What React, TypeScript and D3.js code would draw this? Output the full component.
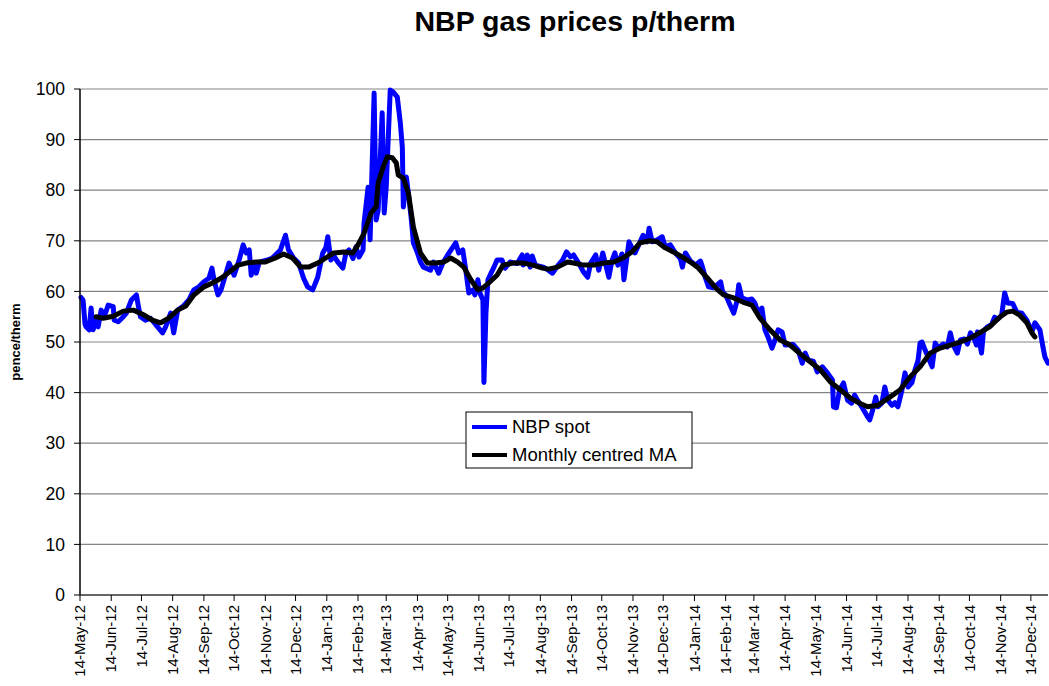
import * as d3 from 'd3';
import * as React from 'react';

const width = 1049;
const height = 686;
const margin = { top: 89, right: 1, bottom: 91, left: 80 };

const startDate = new Date(2012, 4, 14);
const totalDays = 961;

// days since 14-May-12
const spotDays = [
  1, 3, 5, 6, 9, 11, 13, 16, 18, 21, 24, 28, 33, 34, 38, 43, 46, 51, 56, 58, 60, 65, 70, 77, 82, 85, 90, 93, 97,
  102, 108, 113, 118, 123, 128, 131, 133, 137, 140, 148, 153, 158, 162, 165, 168, 170, 172, 175, 178, 186, 191,
  194, 199, 204, 207, 212, 217, 222, 226, 231, 236, 241, 244, 246, 249, 252, 256, 261, 264, 267, 271, 274, 277,
  281, 282, 286, 288, 292, 294, 296, 300, 302, 304, 308, 311, 315, 318, 320, 321, 324, 326, 329, 331, 335, 338,
  341, 348, 351, 356, 360, 365, 373, 376, 380, 383, 386, 390, 392, 395, 397, 400, 401, 403, 405, 408, 411, 414,
  419, 422, 427, 434, 439, 440, 444, 447, 449, 452, 460, 465, 469, 474, 479, 483, 487, 490, 495, 500, 504, 507,
  512, 515, 519, 525, 528, 531, 534, 538, 540, 543, 545, 548, 551, 559, 563, 565, 568, 573, 578, 581, 586, 591,
  596, 598, 601, 606, 611, 616, 618, 621, 624, 629, 636, 638, 641, 646, 649, 652, 654, 657, 663, 667, 670, 673,
  677, 680, 683, 687, 690, 693, 697, 700, 708, 713, 717, 720, 723, 728, 732, 737, 742, 747, 748, 751, 754, 758,
  762, 766, 769, 772, 776, 782, 784, 787, 790, 792, 796, 799, 802, 806, 809, 812, 816, 819, 822, 826, 829, 832,
  834, 836, 839, 842, 846, 849, 852, 857, 861, 864, 867, 871, 874, 878, 881, 884, 887, 890, 891, 895, 897, 901,
  905, 908, 911, 915, 918, 921, 926, 930, 935, 940, 945, 948, 953, 956, 958, 961,
];
const spotValues = [
  58.8, 58.3, 53.5, 53, 52.4, 56.7, 52.4, 54.3, 53, 56.3, 55, 57.3, 57, 54.3, 54, 55, 55.7, 58.3, 59.3, 57, 55,
  54.3, 54.7, 53, 51.8, 53, 55.7, 51.8, 56.3, 57, 58.3, 60.3, 60.9, 61.9, 62.6, 64.6, 62.3, 59.3, 60.3, 65.6,
  63.2, 66.2, 69.2, 67.6, 68.2, 63.2, 65.6, 63.6, 65.8, 66.2, 66.6, 67.2, 68.2, 71.1, 68.2, 66.6, 65.6, 62.6,
  60.9, 60.3, 62.8, 67.6, 68.6, 70.8, 66.2, 67, 65.8, 64.6, 67.6, 68.2, 66.5, 68.8, 66.8, 68.2, 73.5, 80.6, 70.2,
  99.2, 74.1, 76.1, 95.3, 75.5, 80.6, 99.8, 99.4, 98.4, 93.3, 88.5, 76.7, 82.6, 79.4, 74.1, 69.6, 67.6, 65.8,
  64.8, 64.2, 65.8, 63.6, 65.5, 67.2, 69.6, 67.6, 68.2, 64.2, 59.7, 60.3, 59.3, 62.3, 59.7, 58.3, 42, 55.7, 62.3,
  63.6, 64.8, 66.2, 66.2, 64.6, 65.8, 65.5, 67.2, 65.2, 67.2, 64.8, 67, 65.2, 64.8, 64.2, 63.6, 65, 66.2, 67.8,
  66.8, 67.2, 65.6, 63.8, 62.8, 65.6, 67.2, 64.2, 67.6, 62.8, 66, 67.6, 65.2, 67.4, 62.3, 66.8, 69.8, 68.6, 67.6,
  71.1, 69.8, 72.5, 69.8, 70.2, 70.8, 68.8, 69.2, 67.6, 66.5, 64.8, 67.6, 66, 65.2, 66, 64.8, 62.6, 60.9, 60.7,
  61.9, 59.9, 59.3, 57, 55.7, 57.9, 61.3, 58.7, 58.3, 58.5, 57.7, 55.9, 56.7, 52.4, 51, 48.8, 50.4, 52.4, 52,
  49.4, 49.5, 48.4, 45.8, 47.8, 46.4, 46.2, 44.1, 45.1, 43.9, 42.5, 37.2, 37, 40.5, 41.9, 38.5, 37.9, 39.5, 38.5,
  37.2, 35.2, 34.6, 36.6, 39.1, 37.2, 37.9, 41.1, 38.5, 37.5, 38, 37.2, 40.5, 43.9, 41.1, 42, 44.5, 46.4, 49.8,
  50, 48.4, 47, 45.1, 49.8, 48.8, 49.6, 49, 51.8, 49.4, 47.8, 50.4, 50.6, 49.6, 51.8, 51, 49.4, 52, 47.8, 52.2,
  53, 53.4, 54.9, 54.5, 55.3, 59.7, 57.7, 57.6, 55.9, 55.7, 54.3, 52, 53.8, 52.4, 49, 47, 45.8,
];

const maDays = [
  16, 23, 33, 43, 53, 62, 72, 80, 88, 97, 105, 113, 123, 132, 140, 148, 157, 165, 175, 184, 194, 202, 211, 219,
  227, 236, 244, 252, 262, 271, 276, 282, 289, 294, 296, 301, 305, 310, 314, 316, 321, 326, 331, 338, 345, 353,
  361, 368, 375, 381, 388, 395, 400, 406, 414, 420, 430, 440, 450, 459, 465, 474, 484, 490, 500, 510, 520, 530,
  539, 548, 556, 566, 573, 581, 589, 598, 606, 613, 623, 633, 639, 649, 658, 667, 675, 685, 695, 705, 713, 723,
  735, 745, 755, 765, 774, 782, 792, 804, 814, 824, 834, 844, 854, 864, 874, 884, 893, 903, 913, 920, 926, 933,
  940, 945, 948,
];
const maValues = [
  55, 54.7, 55.1, 56.1, 56.3, 55.5, 54.3, 53.8, 54.7, 56.3, 57.1, 59.3, 60.9, 61.7, 62.6, 63.8, 65.2, 65.6, 65.8,
  65.8, 66.6, 67.4, 66.6, 64.8, 64.8, 65.6, 66.6, 67.6, 67.8, 67.6, 69.2, 71.5, 75.5, 76.7, 81.4, 84.6, 86.6,
  86.4, 85.4, 83, 82.4, 79.4, 72.7, 67.6, 65.6, 65.6, 65.8, 66.6, 65.8, 64.8, 62.3, 60.3, 60.7, 61.7, 63.2,
  65.2, 65.6, 65.6, 65.2, 64.6, 64.4, 64.8, 65.8, 65.6, 65.2, 65.2, 65.6, 65.8, 66.6, 67.8, 69.6, 70, 69.8, 68.6,
  67.8, 66.8, 65.8, 64.8, 62.6, 60.3, 59.3, 58.7, 57.9, 57.3, 54.7, 52.4, 50.4, 49.4, 48, 46.4, 44.5, 42.1, 40.5,
  38.9, 37.9, 37.2, 37.5, 39.1, 40.5, 43.1, 45.1, 47.8, 48.8, 49.4, 50, 50.8, 51.8, 53, 54.9, 55.9, 56.1, 55.3,
  53.8, 51.8, 51,
];

const yTicks = [0, 10, 20, 30, 40, 50, 60, 70, 80, 90, 100];
const monthNames = ['Jan', 'Feb', 'Mar', 'Apr', 'May', 'Jun', 'Jul', 'Aug', 'Sep', 'Oct', 'Nov', 'Dec'];

const font = 'Arial, "Liberation Sans", sans-serif';

export default function App() {
  const x = d3
    .scaleTime()
    .domain([startDate, d3.timeDay.offset(startDate, totalDays)])
    .range([margin.left, width - margin.right]);
  const y = d3
    .scaleLinear()
    .domain([0, 100])
    .range([height - margin.bottom, margin.top]);

  const toDate = (d: number) => d3.timeDay.offset(startDate, d);

  const spot = spotDays.map((d, i) => ({ date: toDate(d), v: spotValues[i] }));
  const ma = maDays.map((d, i) => ({ date: toDate(d), v: maValues[i] }));

  const line = d3
    .line<{ date: Date; v: number }>()
    .x(d => x(d.date))
    .y(d => y(d.v));

  const xTicks = d3.range(0, 32).map(k => new Date(2012, 4 + k, 14));
  const fmt = (d: Date) =>
    `14-${monthNames[d.getMonth()]}-${String(d.getFullYear()).slice(2)}`;

  const x0 = margin.left;
  const x1 = width - margin.right;
  const y0 = height - margin.bottom;

  return (
    <svg
      width={width}
      height={height}
      style={{ position: 'absolute', left: 0, top: 0, background: '#fff' }}
      fontFamily={font}
    >
      <text x={575} y={31} textAnchor="middle" fontSize={28.5} fontWeight="bold">
        NBP gas prices p/therm
      </text>

      {/* gridlines */}
      <g stroke="#858585" strokeWidth={1.2}>
        {yTicks
          .filter(t => t > 0)
          .map(t => (
            <line key={t} x1={x0} x2={x1} y1={y(t)} y2={y(t)} />
          ))}
      </g>

      <path
        d={line(spot) || ''}
        fill="none"
        stroke="#0000ff"
        strokeWidth={5}
        strokeLinejoin="round"
        strokeLinecap="round"
      />
      <path
        d={line(ma) || ''}
        fill="none"
        stroke="#000"
        strokeWidth={5}
        strokeLinejoin="round"
        strokeLinecap="round"
      />

      {/* y axis */}
      <line x1={x0} x2={x0} y1={y(100)} y2={y0} stroke="#000" strokeWidth={1.5} />
      {yTicks.map(t => (
        <g key={t}>
          <line x1={x0 - 6} x2={x0} y1={y(t)} y2={y(t)} stroke="#000" />
          <text x={x0 - 15} y={y(t)} dy="0.35em" textAnchor="end" fontSize={17.5}>
            {t}
          </text>
        </g>
      ))}
      <text
        transform={`translate(20,${(y(100) + y0) / 2}) rotate(-90)`}
        textAnchor="middle"
        fontSize={13}
        fontWeight="bold"
      >
        pence/therm
      </text>

      {/* x axis */}
      <line x1={x0} x2={x1} y1={y0} y2={y0} stroke="#333" strokeWidth={1.5} />
      {xTicks.map(t => (
        <g key={t.getTime()} transform={`translate(${x(t)},${y0})`}>
          <line y1={0} y2={6} stroke="#000" />
          <text
            transform="translate(0,10) rotate(-90)"
            dy="0.35em"
            textAnchor="end"
            fontSize={15}
          >
            {fmt(t)}
          </text>
        </g>
      ))}

      {/* legend */}
      <g transform="translate(466,412)">
        <rect width={226} height={56} fill="#fff" stroke="#000" strokeWidth={1} />
        <line x1={6} x2={41} y1={15} y2={15} stroke="#0000ff" strokeWidth={4} />
        <text x={46} y={15} dy="0.35em" fontSize={18.5}>
          NBP spot
        </text>
        <line x1={6} x2={41} y1={43} y2={43} stroke="#000" strokeWidth={4} />
        <text x={46} y={43} dy="0.35em" fontSize={18.5}>
          Monthly centred MA
        </text>
      </g>
    </svg>
  );
}
